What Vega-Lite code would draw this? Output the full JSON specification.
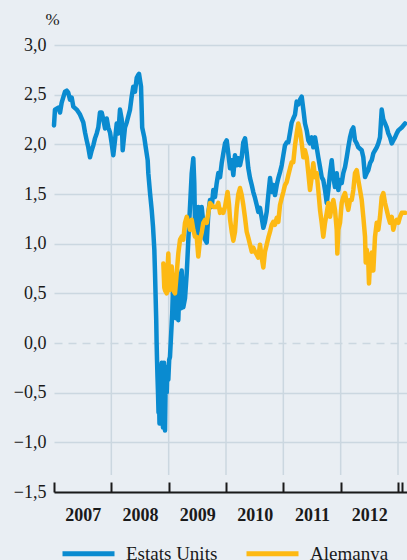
{
  "$schema": "https://vega.github.io/schema/vega-lite/v6.json",
  "width": 353,
  "height": 447,
  "autosize": {"type": "none"},
  "padding": {"left": 54, "top": 45, "right": 0, "bottom": 68},
  "background": "#e9eef3",
  "config": {"view": {"stroke": null}, "font": "Liberation Serif"},
  "datasets": {
    "grid": [{"year": 2008}, {"year": 2009}, {"year": 2010}, {"year": 2011}, {"year": 2012}, {"year": 2013}],
    "rates": [
      {"pais": "Estats Units", "year": 2007.000, "v": 2.19},
      {"pais": "Estats Units", "year": 2007.017, "v": 2.35},
      {"pais": "Estats Units", "year": 2007.075, "v": 2.37},
      {"pais": "Estats Units", "year": 2007.105, "v": 2.32},
      {"pais": "Estats Units", "year": 2007.134, "v": 2.42},
      {"pais": "Estats Units", "year": 2007.192, "v": 2.53},
      {"pais": "Estats Units", "year": 2007.222, "v": 2.54},
      {"pais": "Estats Units", "year": 2007.249, "v": 2.52},
      {"pais": "Estats Units", "year": 2007.279, "v": 2.45},
      {"pais": "Estats Units", "year": 2007.309, "v": 2.47},
      {"pais": "Estats Units", "year": 2007.337, "v": 2.38},
      {"pais": "Estats Units", "year": 2007.396, "v": 2.35},
      {"pais": "Estats Units", "year": 2007.454, "v": 2.30},
      {"pais": "Estats Units", "year": 2007.511, "v": 2.22},
      {"pais": "Estats Units", "year": 2007.541, "v": 2.12},
      {"pais": "Estats Units", "year": 2007.570, "v": 2.04},
      {"pais": "Estats Units", "year": 2007.598, "v": 1.97},
      {"pais": "Estats Units", "year": 2007.628, "v": 1.87},
      {"pais": "Estats Units", "year": 2007.658, "v": 1.94},
      {"pais": "Estats Units", "year": 2007.686, "v": 1.99},
      {"pais": "Estats Units", "year": 2007.715, "v": 2.06},
      {"pais": "Estats Units", "year": 2007.745, "v": 2.11},
      {"pais": "Estats Units", "year": 2007.773, "v": 2.17},
      {"pais": "Estats Units", "year": 2007.802, "v": 2.32},
      {"pais": "Estats Units", "year": 2007.832, "v": 2.32},
      {"pais": "Estats Units", "year": 2007.860, "v": 2.25},
      {"pais": "Estats Units", "year": 2007.890, "v": 2.16},
      {"pais": "Estats Units", "year": 2007.919, "v": 2.26},
      {"pais": "Estats Units", "year": 2007.947, "v": 2.17},
      {"pais": "Estats Units", "year": 2007.977, "v": 2.12},
      {"pais": "Estats Units", "year": 2008.006, "v": 2.01},
      {"pais": "Estats Units", "year": 2008.034, "v": 1.89},
      {"pais": "Estats Units", "year": 2008.064, "v": 2.04},
      {"pais": "Estats Units", "year": 2008.094, "v": 2.21},
      {"pais": "Estats Units", "year": 2008.122, "v": 2.11},
      {"pais": "Estats Units", "year": 2008.151, "v": 2.35},
      {"pais": "Estats Units", "year": 2008.181, "v": 2.25},
      {"pais": "Estats Units", "year": 2008.198, "v": 1.94},
      {"pais": "Estats Units", "year": 2008.238, "v": 2.17},
      {"pais": "Estats Units", "year": 2008.268, "v": 2.22},
      {"pais": "Estats Units", "year": 2008.326, "v": 2.35},
      {"pais": "Estats Units", "year": 2008.355, "v": 2.48},
      {"pais": "Estats Units", "year": 2008.383, "v": 2.58},
      {"pais": "Estats Units", "year": 2008.413, "v": 2.53},
      {"pais": "Estats Units", "year": 2008.443, "v": 2.67},
      {"pais": "Estats Units", "year": 2008.470, "v": 2.70},
      {"pais": "Estats Units", "year": 2008.483, "v": 2.71},
      {"pais": "Estats Units", "year": 2008.518, "v": 2.58},
      {"pais": "Estats Units", "year": 2008.526, "v": 2.42},
      {"pais": "Estats Units", "year": 2008.538, "v": 2.17},
      {"pais": "Estats Units", "year": 2008.575, "v": 2.07},
      {"pais": "Estats Units", "year": 2008.600, "v": 1.97},
      {"pais": "Estats Units", "year": 2008.634, "v": 1.84},
      {"pais": "Estats Units", "year": 2008.645, "v": 1.71},
      {"pais": "Estats Units", "year": 2008.675, "v": 1.51},
      {"pais": "Estats Units", "year": 2008.704, "v": 1.34},
      {"pais": "Estats Units", "year": 2008.727, "v": 1.17},
      {"pais": "Estats Units", "year": 2008.750, "v": 0.94},
      {"pais": "Estats Units", "year": 2008.762, "v": 0.70},
      {"pais": "Estats Units", "year": 2008.774, "v": 0.43},
      {"pais": "Estats Units", "year": 2008.783, "v": 0.23},
      {"pais": "Estats Units", "year": 2008.790, "v": 0.00},
      {"pais": "Estats Units", "year": 2008.797, "v": -0.17},
      {"pais": "Estats Units", "year": 2008.805, "v": -0.34},
      {"pais": "Estats Units", "year": 2008.814, "v": -0.50},
      {"pais": "Estats Units", "year": 2008.823, "v": -0.70},
      {"pais": "Estats Units", "year": 2008.832, "v": -0.55},
      {"pais": "Estats Units", "year": 2008.840, "v": -0.81},
      {"pais": "Estats Units", "year": 2008.849, "v": -0.50},
      {"pais": "Estats Units", "year": 2008.858, "v": -0.72},
      {"pais": "Estats Units", "year": 2008.866, "v": -0.37},
      {"pais": "Estats Units", "year": 2008.879, "v": -0.20},
      {"pais": "Estats Units", "year": 2008.889, "v": -0.60},
      {"pais": "Estats Units", "year": 2008.901, "v": -0.85},
      {"pais": "Estats Units", "year": 2008.910, "v": -0.40},
      {"pais": "Estats Units", "year": 2008.919, "v": -0.20},
      {"pais": "Estats Units", "year": 2008.927, "v": -0.60},
      {"pais": "Estats Units", "year": 2008.936, "v": -0.88},
      {"pais": "Estats Units", "year": 2008.945, "v": -0.50},
      {"pais": "Estats Units", "year": 2008.957, "v": -0.24},
      {"pais": "Estats Units", "year": 2008.966, "v": -0.50},
      {"pais": "Estats Units", "year": 2008.976, "v": -0.30},
      {"pais": "Estats Units", "year": 2008.994, "v": -0.37},
      {"pais": "Estats Units", "year": 2009.009, "v": -0.17},
      {"pais": "Estats Units", "year": 2009.023, "v": -0.14},
      {"pais": "Estats Units", "year": 2009.044, "v": 0.10},
      {"pais": "Estats Units", "year": 2009.062, "v": 0.30},
      {"pais": "Estats Units", "year": 2009.081, "v": 0.66},
      {"pais": "Estats Units", "year": 2009.098, "v": 0.30},
      {"pais": "Estats Units", "year": 2009.111, "v": 0.63},
      {"pais": "Estats Units", "year": 2009.128, "v": 0.25},
      {"pais": "Estats Units", "year": 2009.140, "v": 0.43},
      {"pais": "Estats Units", "year": 2009.168, "v": 0.23},
      {"pais": "Estats Units", "year": 2009.184, "v": 0.50},
      {"pais": "Estats Units", "year": 2009.198, "v": 0.70},
      {"pais": "Estats Units", "year": 2009.215, "v": 0.35},
      {"pais": "Estats Units", "year": 2009.227, "v": 0.73},
      {"pais": "Estats Units", "year": 2009.255, "v": 0.36},
      {"pais": "Estats Units", "year": 2009.285, "v": 0.45},
      {"pais": "Estats Units", "year": 2009.315, "v": 0.70},
      {"pais": "Estats Units", "year": 2009.343, "v": 1.04},
      {"pais": "Estats Units", "year": 2009.372, "v": 1.37},
      {"pais": "Estats Units", "year": 2009.402, "v": 1.71},
      {"pais": "Estats Units", "year": 2009.430, "v": 1.86},
      {"pais": "Estats Units", "year": 2009.447, "v": 1.61},
      {"pais": "Estats Units", "year": 2009.459, "v": 1.21},
      {"pais": "Estats Units", "year": 2009.489, "v": 1.07},
      {"pais": "Estats Units", "year": 2009.517, "v": 1.37},
      {"pais": "Estats Units", "year": 2009.547, "v": 1.04},
      {"pais": "Estats Units", "year": 2009.576, "v": 1.37},
      {"pais": "Estats Units", "year": 2009.604, "v": 1.21},
      {"pais": "Estats Units", "year": 2009.634, "v": 1.04},
      {"pais": "Estats Units", "year": 2009.664, "v": 1.01},
      {"pais": "Estats Units", "year": 2009.692, "v": 1.31},
      {"pais": "Estats Units", "year": 2009.721, "v": 1.44},
      {"pais": "Estats Units", "year": 2009.751, "v": 1.37},
      {"pais": "Estats Units", "year": 2009.779, "v": 1.54},
      {"pais": "Estats Units", "year": 2009.808, "v": 1.47},
      {"pais": "Estats Units", "year": 2009.838, "v": 1.61},
      {"pais": "Estats Units", "year": 2009.866, "v": 1.71},
      {"pais": "Estats Units", "year": 2009.896, "v": 1.67},
      {"pais": "Estats Units", "year": 2009.925, "v": 1.81},
      {"pais": "Estats Units", "year": 2009.953, "v": 1.91},
      {"pais": "Estats Units", "year": 2009.983, "v": 2.01},
      {"pais": "Estats Units", "year": 2010.012, "v": 2.04},
      {"pais": "Estats Units", "year": 2010.040, "v": 1.91},
      {"pais": "Estats Units", "year": 2010.070, "v": 1.76},
      {"pais": "Estats Units", "year": 2010.100, "v": 1.84},
      {"pais": "Estats Units", "year": 2010.128, "v": 1.69},
      {"pais": "Estats Units", "year": 2010.157, "v": 1.89},
      {"pais": "Estats Units", "year": 2010.187, "v": 1.79},
      {"pais": "Estats Units", "year": 2010.215, "v": 1.86},
      {"pais": "Estats Units", "year": 2010.244, "v": 1.79},
      {"pais": "Estats Units", "year": 2010.274, "v": 1.87},
      {"pais": "Estats Units", "year": 2010.302, "v": 2.02},
      {"pais": "Estats Units", "year": 2010.332, "v": 2.06},
      {"pais": "Estats Units", "year": 2010.361, "v": 1.92},
      {"pais": "Estats Units", "year": 2010.389, "v": 1.76},
      {"pais": "Estats Units", "year": 2010.419, "v": 1.66},
      {"pais": "Estats Units", "year": 2010.449, "v": 1.59},
      {"pais": "Estats Units", "year": 2010.476, "v": 1.52},
      {"pais": "Estats Units", "year": 2010.506, "v": 1.46},
      {"pais": "Estats Units", "year": 2010.536, "v": 1.39},
      {"pais": "Estats Units", "year": 2010.564, "v": 1.32},
      {"pais": "Estats Units", "year": 2010.593, "v": 1.36},
      {"pais": "Estats Units", "year": 2010.623, "v": 1.26},
      {"pais": "Estats Units", "year": 2010.651, "v": 1.16},
      {"pais": "Estats Units", "year": 2010.680, "v": 1.22},
      {"pais": "Estats Units", "year": 2010.710, "v": 1.32},
      {"pais": "Estats Units", "year": 2010.738, "v": 1.49},
      {"pais": "Estats Units", "year": 2010.768, "v": 1.66},
      {"pais": "Estats Units", "year": 2010.797, "v": 1.52},
      {"pais": "Estats Units", "year": 2010.825, "v": 1.59},
      {"pais": "Estats Units", "year": 2010.855, "v": 1.49},
      {"pais": "Estats Units", "year": 2010.885, "v": 1.59},
      {"pais": "Estats Units", "year": 2010.913, "v": 1.66},
      {"pais": "Estats Units", "year": 2010.942, "v": 1.72},
      {"pais": "Estats Units", "year": 2010.972, "v": 1.79},
      {"pais": "Estats Units", "year": 2011.000, "v": 1.89},
      {"pais": "Estats Units", "year": 2011.029, "v": 1.99},
      {"pais": "Estats Units", "year": 2011.059, "v": 2.02},
      {"pais": "Estats Units", "year": 2011.087, "v": 2.02},
      {"pais": "Estats Units", "year": 2011.117, "v": 2.12},
      {"pais": "Estats Units", "year": 2011.146, "v": 2.22},
      {"pais": "Estats Units", "year": 2011.174, "v": 2.26},
      {"pais": "Estats Units", "year": 2011.204, "v": 2.30},
      {"pais": "Estats Units", "year": 2011.233, "v": 2.43},
      {"pais": "Estats Units", "year": 2011.261, "v": 2.40},
      {"pais": "Estats Units", "year": 2011.291, "v": 2.45},
      {"pais": "Estats Units", "year": 2011.321, "v": 2.48},
      {"pais": "Estats Units", "year": 2011.349, "v": 2.35},
      {"pais": "Estats Units", "year": 2011.378, "v": 2.21},
      {"pais": "Estats Units", "year": 2011.408, "v": 2.14},
      {"pais": "Estats Units", "year": 2011.436, "v": 2.04},
      {"pais": "Estats Units", "year": 2011.465, "v": 2.01},
      {"pais": "Estats Units", "year": 2011.495, "v": 2.07},
      {"pais": "Estats Units", "year": 2011.523, "v": 1.97},
      {"pais": "Estats Units", "year": 2011.553, "v": 2.07},
      {"pais": "Estats Units", "year": 2011.582, "v": 1.97},
      {"pais": "Estats Units", "year": 2011.610, "v": 1.87},
      {"pais": "Estats Units", "year": 2011.640, "v": 1.77},
      {"pais": "Estats Units", "year": 2011.669, "v": 1.67},
      {"pais": "Estats Units", "year": 2011.697, "v": 1.64},
      {"pais": "Estats Units", "year": 2011.727, "v": 1.54},
      {"pais": "Estats Units", "year": 2011.757, "v": 1.41},
      {"pais": "Estats Units", "year": 2011.785, "v": 1.54},
      {"pais": "Estats Units", "year": 2011.814, "v": 1.71},
      {"pais": "Estats Units", "year": 2011.844, "v": 1.84},
      {"pais": "Estats Units", "year": 2011.872, "v": 1.67},
      {"pais": "Estats Units", "year": 2011.901, "v": 1.57},
      {"pais": "Estats Units", "year": 2011.931, "v": 1.71},
      {"pais": "Estats Units", "year": 2011.959, "v": 1.54},
      {"pais": "Estats Units", "year": 2011.989, "v": 1.64},
      {"pais": "Estats Units", "year": 2012.018, "v": 1.61},
      {"pais": "Estats Units", "year": 2012.046, "v": 1.71},
      {"pais": "Estats Units", "year": 2012.076, "v": 1.77},
      {"pais": "Estats Units", "year": 2012.106, "v": 1.87},
      {"pais": "Estats Units", "year": 2012.133, "v": 1.97},
      {"pais": "Estats Units", "year": 2012.163, "v": 2.07},
      {"pais": "Estats Units", "year": 2012.193, "v": 2.14},
      {"pais": "Estats Units", "year": 2012.221, "v": 2.17},
      {"pais": "Estats Units", "year": 2012.250, "v": 2.04},
      {"pais": "Estats Units", "year": 2012.280, "v": 2.01},
      {"pais": "Estats Units", "year": 2012.308, "v": 1.97},
      {"pais": "Estats Units", "year": 2012.367, "v": 1.94},
      {"pais": "Estats Units", "year": 2012.395, "v": 1.87},
      {"pais": "Estats Units", "year": 2012.425, "v": 1.67},
      {"pais": "Estats Units", "year": 2012.454, "v": 1.71},
      {"pais": "Estats Units", "year": 2012.482, "v": 1.74},
      {"pais": "Estats Units", "year": 2012.512, "v": 1.81},
      {"pais": "Estats Units", "year": 2012.542, "v": 1.84},
      {"pais": "Estats Units", "year": 2012.570, "v": 1.91},
      {"pais": "Estats Units", "year": 2012.599, "v": 1.94},
      {"pais": "Estats Units", "year": 2012.629, "v": 1.97},
      {"pais": "Estats Units", "year": 2012.657, "v": 2.01},
      {"pais": "Estats Units", "year": 2012.686, "v": 2.07},
      {"pais": "Estats Units", "year": 2012.716, "v": 2.35},
      {"pais": "Estats Units", "year": 2012.744, "v": 2.25},
      {"pais": "Estats Units", "year": 2012.774, "v": 2.21},
      {"pais": "Estats Units", "year": 2012.803, "v": 2.17},
      {"pais": "Estats Units", "year": 2012.831, "v": 2.11},
      {"pais": "Estats Units", "year": 2012.861, "v": 2.07},
      {"pais": "Estats Units", "year": 2012.891, "v": 2.01},
      {"pais": "Estats Units", "year": 2012.918, "v": 2.04},
      {"pais": "Estats Units", "year": 2012.948, "v": 2.07},
      {"pais": "Estats Units", "year": 2012.978, "v": 2.11},
      {"pais": "Estats Units", "year": 2013.006, "v": 2.14},
      {"pais": "Estats Units", "year": 2013.065, "v": 2.17},
      {"pais": "Estats Units", "year": 2013.123, "v": 2.21},
      {"pais": "Alemanya", "year": 2008.907, "v": 0.80},
      {"pais": "Alemanya", "year": 2008.924, "v": 0.56},
      {"pais": "Alemanya", "year": 2008.936, "v": 0.53},
      {"pais": "Alemanya", "year": 2008.966, "v": 0.50},
      {"pais": "Alemanya", "year": 2008.980, "v": 0.75},
      {"pais": "Alemanya", "year": 2008.994, "v": 0.90},
      {"pais": "Alemanya", "year": 2009.011, "v": 0.53},
      {"pais": "Alemanya", "year": 2009.023, "v": 0.70},
      {"pais": "Alemanya", "year": 2009.053, "v": 0.77},
      {"pais": "Alemanya", "year": 2009.081, "v": 0.53},
      {"pais": "Alemanya", "year": 2009.111, "v": 0.50},
      {"pais": "Alemanya", "year": 2009.140, "v": 0.70},
      {"pais": "Alemanya", "year": 2009.168, "v": 0.90},
      {"pais": "Alemanya", "year": 2009.198, "v": 1.04},
      {"pais": "Alemanya", "year": 2009.227, "v": 1.07},
      {"pais": "Alemanya", "year": 2009.255, "v": 1.04},
      {"pais": "Alemanya", "year": 2009.285, "v": 1.21},
      {"pais": "Alemanya", "year": 2009.315, "v": 1.27},
      {"pais": "Alemanya", "year": 2009.343, "v": 1.21},
      {"pais": "Alemanya", "year": 2009.372, "v": 1.14},
      {"pais": "Alemanya", "year": 2009.402, "v": 1.24},
      {"pais": "Alemanya", "year": 2009.430, "v": 1.14},
      {"pais": "Alemanya", "year": 2009.459, "v": 1.07},
      {"pais": "Alemanya", "year": 2009.489, "v": 1.07},
      {"pais": "Alemanya", "year": 2009.517, "v": 0.87},
      {"pais": "Alemanya", "year": 2009.547, "v": 1.04},
      {"pais": "Alemanya", "year": 2009.576, "v": 1.11},
      {"pais": "Alemanya", "year": 2009.604, "v": 1.21},
      {"pais": "Alemanya", "year": 2009.634, "v": 1.24},
      {"pais": "Alemanya", "year": 2009.664, "v": 1.21},
      {"pais": "Alemanya", "year": 2009.692, "v": 1.31},
      {"pais": "Alemanya", "year": 2009.721, "v": 1.41},
      {"pais": "Alemanya", "year": 2009.779, "v": 1.37},
      {"pais": "Alemanya", "year": 2009.838, "v": 1.37},
      {"pais": "Alemanya", "year": 2009.866, "v": 1.41},
      {"pais": "Alemanya", "year": 2009.896, "v": 1.31},
      {"pais": "Alemanya", "year": 2009.925, "v": 1.34},
      {"pais": "Alemanya", "year": 2009.953, "v": 1.31},
      {"pais": "Alemanya", "year": 2009.983, "v": 1.37},
      {"pais": "Alemanya", "year": 2010.012, "v": 1.47},
      {"pais": "Alemanya", "year": 2010.028, "v": 1.52},
      {"pais": "Alemanya", "year": 2010.052, "v": 1.40},
      {"pais": "Alemanya", "year": 2010.070, "v": 1.25},
      {"pais": "Alemanya", "year": 2010.100, "v": 1.12},
      {"pais": "Alemanya", "year": 2010.128, "v": 1.03},
      {"pais": "Alemanya", "year": 2010.157, "v": 1.12},
      {"pais": "Alemanya", "year": 2010.187, "v": 1.36},
      {"pais": "Alemanya", "year": 2010.215, "v": 1.50},
      {"pais": "Alemanya", "year": 2010.244, "v": 1.56},
      {"pais": "Alemanya", "year": 2010.274, "v": 1.49},
      {"pais": "Alemanya", "year": 2010.302, "v": 1.39},
      {"pais": "Alemanya", "year": 2010.332, "v": 1.26},
      {"pais": "Alemanya", "year": 2010.361, "v": 1.12},
      {"pais": "Alemanya", "year": 2010.389, "v": 1.06},
      {"pais": "Alemanya", "year": 2010.419, "v": 0.99},
      {"pais": "Alemanya", "year": 2010.449, "v": 0.92},
      {"pais": "Alemanya", "year": 2010.476, "v": 0.96},
      {"pais": "Alemanya", "year": 2010.506, "v": 0.92},
      {"pais": "Alemanya", "year": 2010.536, "v": 0.89},
      {"pais": "Alemanya", "year": 2010.564, "v": 0.86},
      {"pais": "Alemanya", "year": 2010.593, "v": 0.99},
      {"pais": "Alemanya", "year": 2010.623, "v": 0.86},
      {"pais": "Alemanya", "year": 2010.651, "v": 0.76},
      {"pais": "Alemanya", "year": 2010.680, "v": 0.92},
      {"pais": "Alemanya", "year": 2010.710, "v": 0.99},
      {"pais": "Alemanya", "year": 2010.738, "v": 1.06},
      {"pais": "Alemanya", "year": 2010.768, "v": 1.12},
      {"pais": "Alemanya", "year": 2010.797, "v": 1.19},
      {"pais": "Alemanya", "year": 2010.825, "v": 1.22},
      {"pais": "Alemanya", "year": 2010.855, "v": 1.19},
      {"pais": "Alemanya", "year": 2010.885, "v": 1.26},
      {"pais": "Alemanya", "year": 2010.913, "v": 1.22},
      {"pais": "Alemanya", "year": 2010.942, "v": 1.39},
      {"pais": "Alemanya", "year": 2010.972, "v": 1.46},
      {"pais": "Alemanya", "year": 2011.000, "v": 1.52},
      {"pais": "Alemanya", "year": 2011.029, "v": 1.59},
      {"pais": "Alemanya", "year": 2011.059, "v": 1.62},
      {"pais": "Alemanya", "year": 2011.087, "v": 1.69},
      {"pais": "Alemanya", "year": 2011.117, "v": 1.76},
      {"pais": "Alemanya", "year": 2011.146, "v": 1.82},
      {"pais": "Alemanya", "year": 2011.174, "v": 1.82},
      {"pais": "Alemanya", "year": 2011.204, "v": 1.99},
      {"pais": "Alemanya", "year": 2011.233, "v": 2.11},
      {"pais": "Alemanya", "year": 2011.261, "v": 2.21},
      {"pais": "Alemanya", "year": 2011.291, "v": 2.14},
      {"pais": "Alemanya", "year": 2011.321, "v": 2.01},
      {"pais": "Alemanya", "year": 2011.349, "v": 1.87},
      {"pais": "Alemanya", "year": 2011.378, "v": 1.94},
      {"pais": "Alemanya", "year": 2011.408, "v": 1.87},
      {"pais": "Alemanya", "year": 2011.436, "v": 1.71},
      {"pais": "Alemanya", "year": 2011.465, "v": 1.54},
      {"pais": "Alemanya", "year": 2011.495, "v": 1.67},
      {"pais": "Alemanya", "year": 2011.523, "v": 1.81},
      {"pais": "Alemanya", "year": 2011.553, "v": 1.67},
      {"pais": "Alemanya", "year": 2011.582, "v": 1.71},
      {"pais": "Alemanya", "year": 2011.610, "v": 1.54},
      {"pais": "Alemanya", "year": 2011.640, "v": 1.34},
      {"pais": "Alemanya", "year": 2011.669, "v": 1.21},
      {"pais": "Alemanya", "year": 2011.697, "v": 1.07},
      {"pais": "Alemanya", "year": 2011.727, "v": 1.21},
      {"pais": "Alemanya", "year": 2011.757, "v": 1.31},
      {"pais": "Alemanya", "year": 2011.785, "v": 1.41},
      {"pais": "Alemanya", "year": 2011.814, "v": 1.27},
      {"pais": "Alemanya", "year": 2011.844, "v": 1.37},
      {"pais": "Alemanya", "year": 2011.872, "v": 1.44},
      {"pais": "Alemanya", "year": 2011.901, "v": 1.34},
      {"pais": "Alemanya", "year": 2011.931, "v": 1.14},
      {"pais": "Alemanya", "year": 2011.942, "v": 0.90},
      {"pais": "Alemanya", "year": 2011.959, "v": 1.14},
      {"pais": "Alemanya", "year": 2011.989, "v": 1.21},
      {"pais": "Alemanya", "year": 2012.018, "v": 1.41},
      {"pais": "Alemanya", "year": 2012.046, "v": 1.47},
      {"pais": "Alemanya", "year": 2012.076, "v": 1.51},
      {"pais": "Alemanya", "year": 2012.106, "v": 1.41},
      {"pais": "Alemanya", "year": 2012.133, "v": 1.34},
      {"pais": "Alemanya", "year": 2012.163, "v": 1.44},
      {"pais": "Alemanya", "year": 2012.193, "v": 1.44},
      {"pais": "Alemanya", "year": 2012.221, "v": 1.54},
      {"pais": "Alemanya", "year": 2012.250, "v": 1.71},
      {"pais": "Alemanya", "year": 2012.280, "v": 1.74},
      {"pais": "Alemanya", "year": 2012.308, "v": 1.64},
      {"pais": "Alemanya", "year": 2012.338, "v": 1.54},
      {"pais": "Alemanya", "year": 2012.367, "v": 1.44},
      {"pais": "Alemanya", "year": 2012.395, "v": 1.27},
      {"pais": "Alemanya", "year": 2012.425, "v": 1.07},
      {"pais": "Alemanya", "year": 2012.437, "v": 0.81},
      {"pais": "Alemanya", "year": 2012.454, "v": 0.94},
      {"pais": "Alemanya", "year": 2012.482, "v": 0.81},
      {"pais": "Alemanya", "year": 2012.494, "v": 0.60},
      {"pais": "Alemanya", "year": 2012.512, "v": 0.81},
      {"pais": "Alemanya", "year": 2012.542, "v": 0.91},
      {"pais": "Alemanya", "year": 2012.570, "v": 0.73},
      {"pais": "Alemanya", "year": 2012.599, "v": 1.07},
      {"pais": "Alemanya", "year": 2012.629, "v": 1.21},
      {"pais": "Alemanya", "year": 2012.657, "v": 1.14},
      {"pais": "Alemanya", "year": 2012.686, "v": 1.27},
      {"pais": "Alemanya", "year": 2012.716, "v": 1.47},
      {"pais": "Alemanya", "year": 2012.744, "v": 1.51},
      {"pais": "Alemanya", "year": 2012.774, "v": 1.41},
      {"pais": "Alemanya", "year": 2012.803, "v": 1.34},
      {"pais": "Alemanya", "year": 2012.831, "v": 1.27},
      {"pais": "Alemanya", "year": 2012.861, "v": 1.21},
      {"pais": "Alemanya", "year": 2012.891, "v": 1.27},
      {"pais": "Alemanya", "year": 2012.918, "v": 1.14},
      {"pais": "Alemanya", "year": 2012.948, "v": 1.21},
      {"pais": "Alemanya", "year": 2012.978, "v": 1.24},
      {"pais": "Alemanya", "year": 2013.006, "v": 1.21},
      {"pais": "Alemanya", "year": 2013.035, "v": 1.27},
      {"pais": "Alemanya", "year": 2013.065, "v": 1.31},
      {"pais": "Alemanya", "year": 2013.123, "v": 1.31}
    ]
  },
  "layer": [
    {
      "data": {"name": "grid"},
      "mark": {"type": "rule", "color": "#cbd7e0", "strokeWidth": 1.5},
      "encoding": {
        "x": {"field": "year", "type": "quantitative", "scale": {"domain": [2007, 2013.157], "nice": false, "zero": false}},
        "y": {"datum": 2.0, "type": "quantitative"},
        "y2": {"datum": -1.33}
      }
    },
    {
      "data": {"name": "rates"},
      "mark": {"type": "line", "strokeWidth": 4.5, "strokeJoin": "round", "strokeCap": "round"},
      "encoding": {
        "x": {
          "field": "year", "type": "quantitative",
          "scale": {"domain": [2007, 2013.157], "nice": false, "zero": false},
          "axis": {
            "title": null,
            "values": [2007, 2008, 2009, 2010, 2011, 2012, 2013, 2013.07],
            "labelExpr": "datum.value < 2012.5 ? format(datum.value, 'd') : ''",
            "labelFlush": false,
            "labelOverlap": false,
            "labelOffset": 28.7,
            "labelFontSize": 18,
            "labelFontWeight": "bold",
            "labelColor": "#1a1a1a",
            "labelPadding": 24,
            "tickSize": -10,
            "tickWidth": 2,
            "tickColor": "#1a1a1a",
            "domainColor": "#1a1a1a",
            "domainWidth": 2,
            "grid": false
          }
        },
        "y": {
          "field": "v", "type": "quantitative",
          "scale": {"domain": [-1.5, 3.0], "nice": false, "zero": false},
          "axis": {
            "title": "%",
            "titleAngle": 0,
            "titleFontSize": 17,
            "titleFontWeight": "normal",
            "titleColor": "#1a1a1a",
            "titleAlign": "center",
            "titleBaseline": "middle",
            "titleX": -2,
            "titleY": -26,
            "values": [-1.5, -1.0, -0.5, 0, 0.5, 1.0, 1.5, 2.0, 2.5, 3.0],
            "labelExpr": "replace(format(datum.value, '.1f'), '.', ',')",
            "labelFontSize": 18,
            "labelColor": "#1a1a1a",
            "labelPadding": 8,
            "ticks": false,
            "domain": false,
            "grid": true,
            "gridColor": "#cbd7e0",
            "gridWidth": 1.5,
            "gridDash": {"condition": {"test": "datum.value === 0", "value": [8, 6]}, "value": []}
          }
        },
        "color": {
          "field": "pais", "type": "nominal",
          "scale": {"domain": ["Estats Units", "Alemanya"], "range": ["#0a8bd0", "#fdb913"]},
          "legend": {
            "title": null,
            "orient": "none",
            "direction": "horizontal",
            "legendX": 6,
            "legendY": 480,
            "symbolType": "stroke",
            "symbolSize": 2704,
            "symbolStrokeWidth": 5,
            "labelFontSize": 19,
            "labelColor": "#1a1a1a",
            "labelOffset": 9,
            "columnPadding": 18
          }
        }
      }
    }
  ]
}
